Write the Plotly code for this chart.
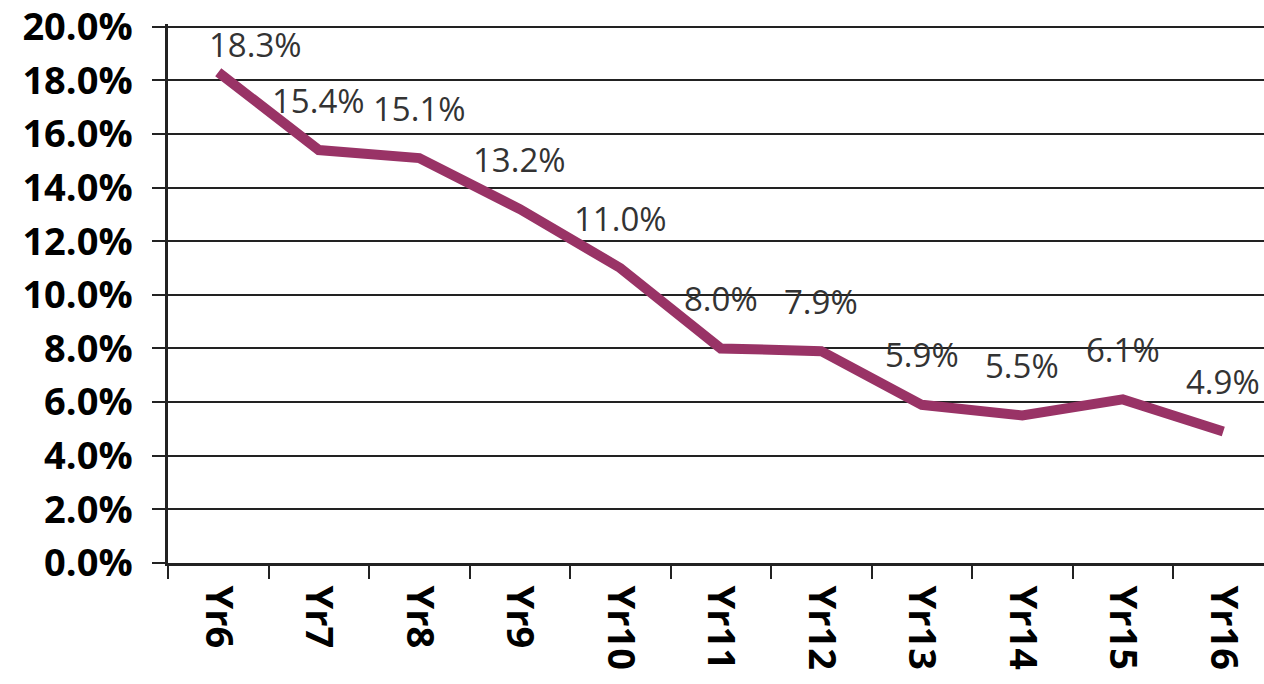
import plotly.graph_objects as go

categories = ["Yr6", "Yr7", "Yr8", "Yr9", "Yr10", "Yr11", "Yr12", "Yr13", "Yr14", "Yr15", "Yr16"]
values = [18.3, 15.4, 15.1, 13.2, 11.0, 8.0, 7.9, 5.9, 5.5, 6.1, 4.9]
labels = ["18.3%", "15.4%", "15.1%", "13.2%", "11.0%", "8.0%", "7.9%", "5.9%", "5.5%", "6.1%", "4.9%"]
y_ticks = [0, 2, 4, 6, 8, 10, 12, 14, 16, 18, 20]

# label pixel offsets (style)
label_shifts = {0: (37, 28)}

fig = go.Figure()
fig.add_trace(go.Scatter(
    x=categories, y=values, mode="lines",
    line=dict(color="#993366", width=10),
    hoverinfo="skip", showlegend=False,
))

for i, (c, v, t) in enumerate(zip(categories, values, labels)):
    xs, ys = label_shifts.get(i, (0, 50))
    fig.add_annotation(
        x=c, y=v, text=t, showarrow=False, xshift=xs, yshift=ys,
        font=dict(family="Open Sans", size=33, color="#333333"),
    )

fig.update_layout(
    width=1264, height=684,
    margin=dict(l=168, r=0, t=24, b=121, autoexpand=False),
    paper_bgcolor="white", plot_bgcolor="white",
    showlegend=False,
)
fig.update_xaxes(
    type="category", range=[-0.5, 10.405],
    showgrid=False, showline=True, linecolor="#222222", linewidth=3,
    ticks="outside", tickson="boundaries", ticklen=13, tickwidth=2, tickcolor="#222222",
    tickangle=90, ticklabelstandoff=12, automargin=False,
    tickfont=dict(family="Open Sans", size=38, color="black", weight="bold"),
    zeroline=False,
)
fig.update_yaxes(
    range=[0, 20.1], tickvals=y_ticks,
    ticktext=[f"{v:.1f}%" for v in y_ticks],
    showgrid=True, gridcolor="#222222", gridwidth=2,
    showline=True, linecolor="#222222", linewidth=2.5,
    ticks="outside", ticklen=13, tickwidth=2, tickcolor="#222222",
    ticklabelstandoff=12, automargin=False, ticklabeloverflow="allow",
    tickfont=dict(family="Open Sans", size=38, color="black", weight="bold"),
    zeroline=False,
)

fig.write_html(
    "out.html",
    config={"displayModeBar": False},
    post_script="document.body.style.margin='0';document.body.style.overflow='hidden';",
)
